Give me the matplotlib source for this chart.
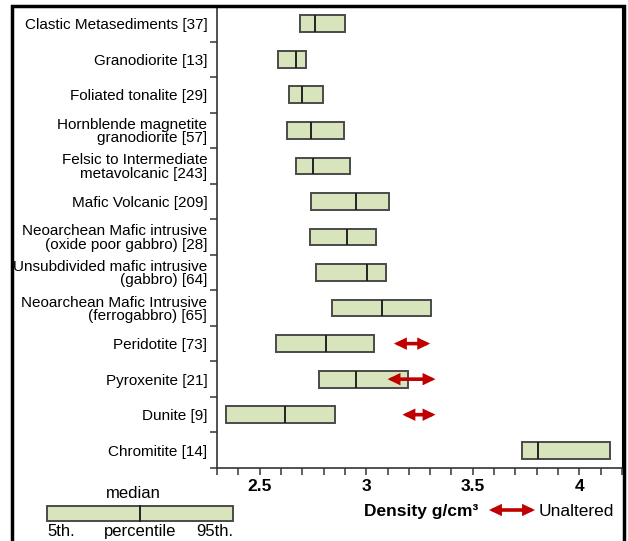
import numpy as np
import matplotlib

matplotlib.use("Agg")
import matplotlib.pyplot as plt
from matplotlib.patches import Rectangle, FancyArrowPatch

plt.rcParams["font.family"] = ["Liberation Sans", "DejaVu Sans"]

# rock units (top to bottom) with sample counts in brackets
units = [
    "Clastic Metasediments [37]",
    "Granodiorite [13]",
    "Foliated tonalite [29]",
    "Hornblende magnetite\ngranodiorite [57]",
    "Felsic to Intermediate\nmetavolcanic [243]",
    "Mafic Volcanic [209]",
    "Neoarchean Mafic intrusive\n(oxide poor gabbro) [28]",
    "Unsubdivided mafic intrusive\n(gabbro) [64]",
    "Neoarchean Mafic Intrusive\n(ferrogabbro) [65]",
    "Peridotite [73]",
    "Pyroxenite [21]",
    "Dunite [9]",
    "Chromitite [14]",
]
# density percentiles, g/cm3
p05 = [2.69, 2.585, 2.64, 2.63, 2.67, 2.74, 2.737, 2.766, 2.84, 2.577, 2.78, 2.344, 3.73]
p50 = [2.76, 2.67, 2.70, 2.74, 2.75, 2.953, 2.908, 3.005, 3.074, 2.81, 2.953, 2.62, 3.804]
p95 = [2.90, 2.718, 2.795, 2.896, 2.924, 3.105, 3.045, 3.094, 3.306, 3.035, 3.197, 2.853, 4.145]

# unaltered density ranges (red arrows)
unaltered_units = ["Peridotite [73]", "Pyroxenite [21]", "Dunite [9]"]
unaltered_lo = [3.13, 3.10, 3.17]
unaltered_hi = [3.30, 3.325, 3.325]

box_fill = "#d8e4bc"
box_edge = "#4a4a4a"
arrow_red = "#c00000"
arrow_style = "<|-|>,head_length=0.5,head_width=0.24"
arrow_kw = dict(arrowstyle=arrow_style, color=arrow_red, lw=2.6, mutation_scale=10,
                shrinkA=0, shrinkB=0, joinstyle="miter")

W, H = 628, 541
fig = plt.figure(figsize=(W / 100, H / 100), dpi=100)
ax = fig.add_axes([217 / W, 1 - 468 / H, (622 - 217) / W, (468 - 6) / H])

y = np.arange(len(units))
bh = 0.47
widths = np.array(p95) - np.array(p05)
ax.barh(y, widths, left=p05, height=bh, color=box_fill, edgecolor=box_edge,
        linewidth=1.4, zorder=3)
ax.vlines(p50, y - bh / 2, y + bh / 2, color="#222222", linewidth=1.4, zorder=4)

for name, lo, hi in zip(unaltered_units, unaltered_lo, unaltered_hi):
    yi = units.index(name)
    ax.annotate("", xy=(hi, yi), xytext=(lo, yi), arrowprops=arrow_kw, zorder=5)

ax.set_xlim(2.3, 4.2)
ax.set_ylim(len(units) - 0.5, -0.5)

ax.set_xticks([2.5, 3, 3.5, 4])
ax.set_xticklabels(["2.5", "3", "3.5", "4"], fontweight="bold", fontsize=12.5)
ax.set_xticks(np.arange(2.3, 4.21, 0.1), minor=True)
ax.tick_params(axis="x", which="both", direction="out", length=5, width=1.2,
               color="#444444", pad=3)

ax.set_yticks(np.arange(0.5, len(units), 1.0))
ax.set_yticklabels([])
ax.set_yticks(y, minor=True)
ax.set_yticklabels(units, minor=True, fontsize=11, linespacing=0.95)
ax.tick_params(axis="y", which="major", direction="out", length=5, width=1.2,
               color="#444444")
ax.tick_params(axis="y", which="minor", length=0, pad=7)

for side in ["left", "bottom"]:
    ax.spines[side].set_color("#333333")
    ax.spines[side].set_linewidth(1.2)

# outer frame of the figure
fig.patches.append(Rectangle((12 / W, -0.02), (624 - 12) / W, 1.02 - 5.5 / H,
                             transform=fig.transFigure, fill=False,
                             edgecolor="black", linewidth=2.5, zorder=10))

# axis title and arrow key
fig.text(421 / W, 1 - 516 / H, "Density g/cm\u00b3", ha="center", va="baseline",
         fontsize=12.5, fontweight="bold")
fig.patches.append(FancyArrowPatch(
    (489 / W, 1 - 510 / H), (535 / W, 1 - 510 / H), transform=fig.transFigure,
    **arrow_kw))
fig.text(539 / W, 1 - 516 / H, "Unaltered", ha="left", va="baseline", fontsize=12.5)

# box key in the lower left
lax = fig.add_axes([47 / W, 1 - 521 / H, (233 - 47) / W, 15 / H])
lax.set_xlim(0, 1)
lax.set_ylim(0, 1)
lax.axis("off")
lax.add_patch(Rectangle((0, 0), 1, 1, facecolor=box_fill, edgecolor=box_edge,
                        linewidth=1.4, clip_on=False))
lax.plot([0.5, 0.5], [0, 1], color="#222222", lw=1.4, clip_on=False)
fig.text(133 / W, 1 - 498 / H, "median", ha="center", va="baseline", fontsize=12)
fig.text(47 / W, 1 - 536 / H, "5th.", ha="left", va="baseline", fontsize=12)
fig.text(140 / W, 1 - 536 / H, "percentile", ha="center", va="baseline", fontsize=12)
fig.text(233 / W, 1 - 536 / H, "95th.", ha="right", va="baseline", fontsize=12)

fig.savefig("out.png", dpi=100)
